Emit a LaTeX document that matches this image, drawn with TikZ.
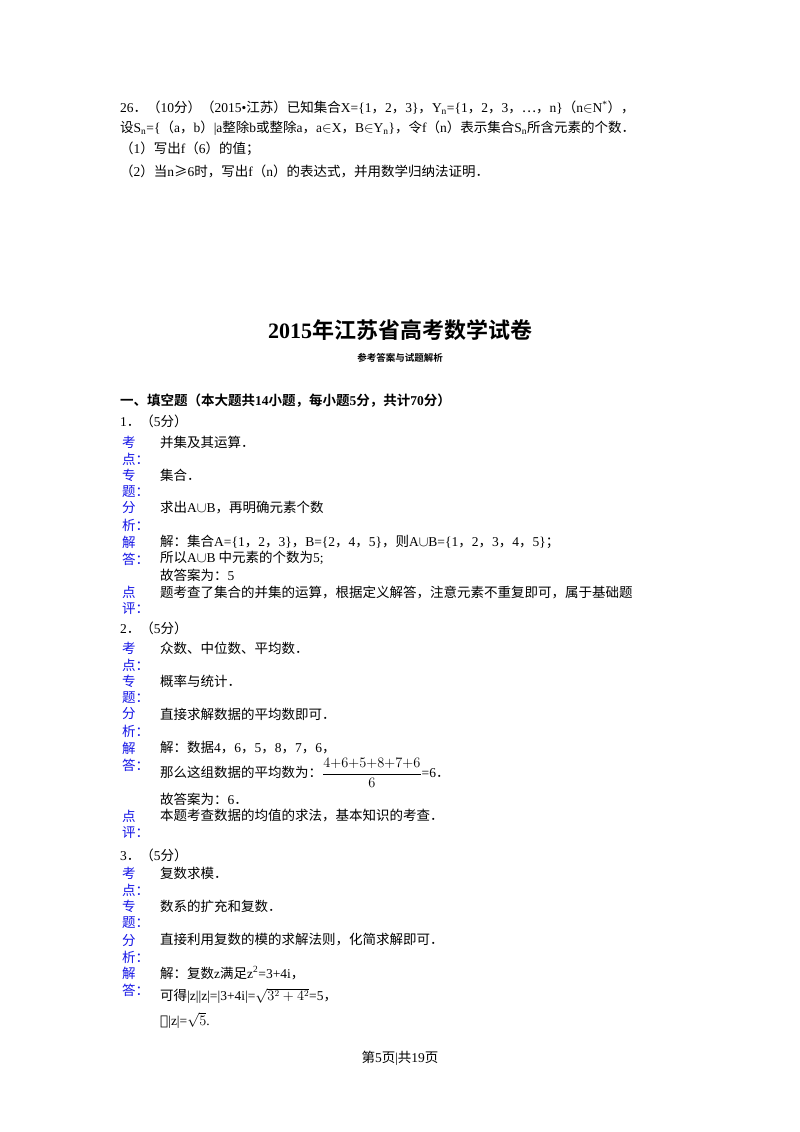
\documentclass[tikz,border=0pt]{standalone}
\usepackage{fontspec}
\setmainfont{Noto Sans CJK SC}
\newfontfamily\lt{Liberation Serif}
\newfontfamily\ltb{Liberation Serif Bold}
\newfontfamily\cjkb{Noto Sans CJK SC Bold}
\newfontfamily\dv{DejaVu Serif}
\newcommand{\mel}{\ensuremath{\in}}
\newcommand{\mcup}{\ensuremath{\cup}}
\definecolor{lblue}{RGB}{20,20,230}
\begin{document}
\begin{tikzpicture}[x=1pt,y=-1pt,
 t/.style={anchor=west,inner sep=0pt,font=\fontsize{13.5}{16}\selectfont},
 lb/.style={anchor=west,inner sep=0pt,text=lblue,font=\fontsize{13.5}{16}\selectfont}]
\useasboundingbox (0,0) rectangle (800,1132);
\fill[white] (0,0) rectangle (800,1132);
\node[t] (q1) at (120,108) {{\lt 26}．（{\lt 10}分）（{\lt 2015•}江苏）已知集合{\lt X=\{1}，{\lt 2}，{\lt 3\}}，{\lt Y\textsubscript{n}=\{1}，{\lt 2}，{\lt 3}，…，{\lt n\}}（{\lt n}\mel{\lt N\textsuperscript{*}}），};
\node[t] (q2) at (120,128) {设{\lt S\textsubscript{n}=\{}（{\lt a}，{\lt b}）{\lt |a}整除{\lt b}或整除{\lt a}，{\lt a}\mel{\lt X}，{\lt B}\mel{\lt Y\textsubscript{n}\}}，令{\lt f}（{\lt n}）表示集合{\lt S\textsubscript{n}}所含元素的个数．};
\node[t] (q3) at (120,149) {（{\lt 1}）写出{\lt f}（{\lt 6}）的值；};
\node[t] (q4) at (120,171) {（{\lt 2}）当{\lt n}≥{\lt 6}时，写出{\lt f}（{\lt n}）的表达式，并用数学归纳法证明．};
\node[inner sep=0pt,font=\fontsize{22}{26}\selectfont] (title) at (400,330) {{\ltb 2015}{\cjkb 年江苏省高考数学试卷}};
\node[inner sep=0pt,font=\fontsize{9.5}{11}\selectfont] (sub) at (400,358) {\cjkb 参考答案与试题解析};
\node[t] (s1) at (120,401) {\cjkb 一、填空题（本大题共{\ltb 14}小题，每小题{\ltb 5}分，共计{\ltb 70}分）};
\node[t] (n1) at (120,421) {{\lt 1}．（{\lt 5}分）};
\foreach \a/\b/\y in {考/点/442,专/题/475,分/析/508,解/答/542,点/评/592,考/点/648,专/题/681,分/析/714,解/答/748,点/评/816,考/点/873,专/题/906,分/析/940,解/答/973}{
 \node[lb] at (122,\y) {\a};
 \node[lb] at (122,\y+17) {\b：};
}
\node[t] (a1) at (160,442) {并集及其运算．};
\node[t] (a2) at (160,475) {集合．};
\node[t] (a3) at (160,508) {求出{\lt A}\mcup{\lt B}，再明确元素个数};
\node[t] (a4) at (160,542) {解：集合{\lt A=\{1}，{\lt 2}，{\lt 3\}}，{\lt B=\{2}，{\lt 4}，{\lt 5\}}，则{\lt A}\mcup{\lt B=\{1}，{\lt 2}，{\lt 3}，{\lt 4}，{\lt 5\}}；};
\node[t] (a5) at (160,558) {所以{\lt A}\mcup{\lt B} 中元素的个数为{\lt 5;}};
\node[t] (a6) at (160,575) {故答案为：{\lt 5}};
\node[t] (a7) at (160,592) {题考查了集合的并集的运算，根据定义解答，注意元素不重复即可，属于基础题};
\node[t] (n2) at (120,628) {{\lt 2}．（{\lt 5}分）};
\node[t] (b1) at (160,648) {众数、中位数、平均数．};
\node[t] (b2) at (160,681) {概率与统计．};
\node[t] (b3) at (160,714) {直接求解数据的平均数即可．};
\node[t] (b4) at (160,748) {解：数据{\lt 4}，{\lt 6}，{\lt 5}，{\lt 8}，{\lt 7}，{\lt 6}，};
\node[t] (b5) at (160,773) {那么这组数据的平均数为：$\displaystyle\frac{4{+}6{+}5{+}8{+}7{+}6}{6}${\lt =6}．};
\node[t] (b6) at (160,799) {故答案为：{\lt 6}．};
\node[t] (b7) at (160,816) {本题考查数据的均值的求法，基本知识的考查．};
\node[t] (n3) at (120,855) {{\lt 3}．（{\lt 5}分）};
\node[t] (c1) at (160,873) {复数求模．};
\node[t] (c2) at (160,906) {数系的扩充和复数．};
\node[t] (c3) at (160,940) {直接利用复数的模的求解法则，化简求解即可．};
\node[t] (c4) at (160,973) {解：复数{\lt z}满足{\lt z\textsuperscript{2}=3+4i}，};
\node[t] (c5) at (160,996) {可得{\lt |z||z|=|3+4i|=}$\sqrt{3^2+4^2}${\lt =5}，};
\node[t] (c6) at (160,1020) {{\dv ∴}{\lt |z|=}$\sqrt{5}${\lt .}};
\node[inner sep=0pt,font=\fontsize{13.5}{16}\selectfont] (foot) at (400,1058) {第{\lt 5}页{\lt |}共{\lt 19}页};
\end{tikzpicture}
\end{document}
